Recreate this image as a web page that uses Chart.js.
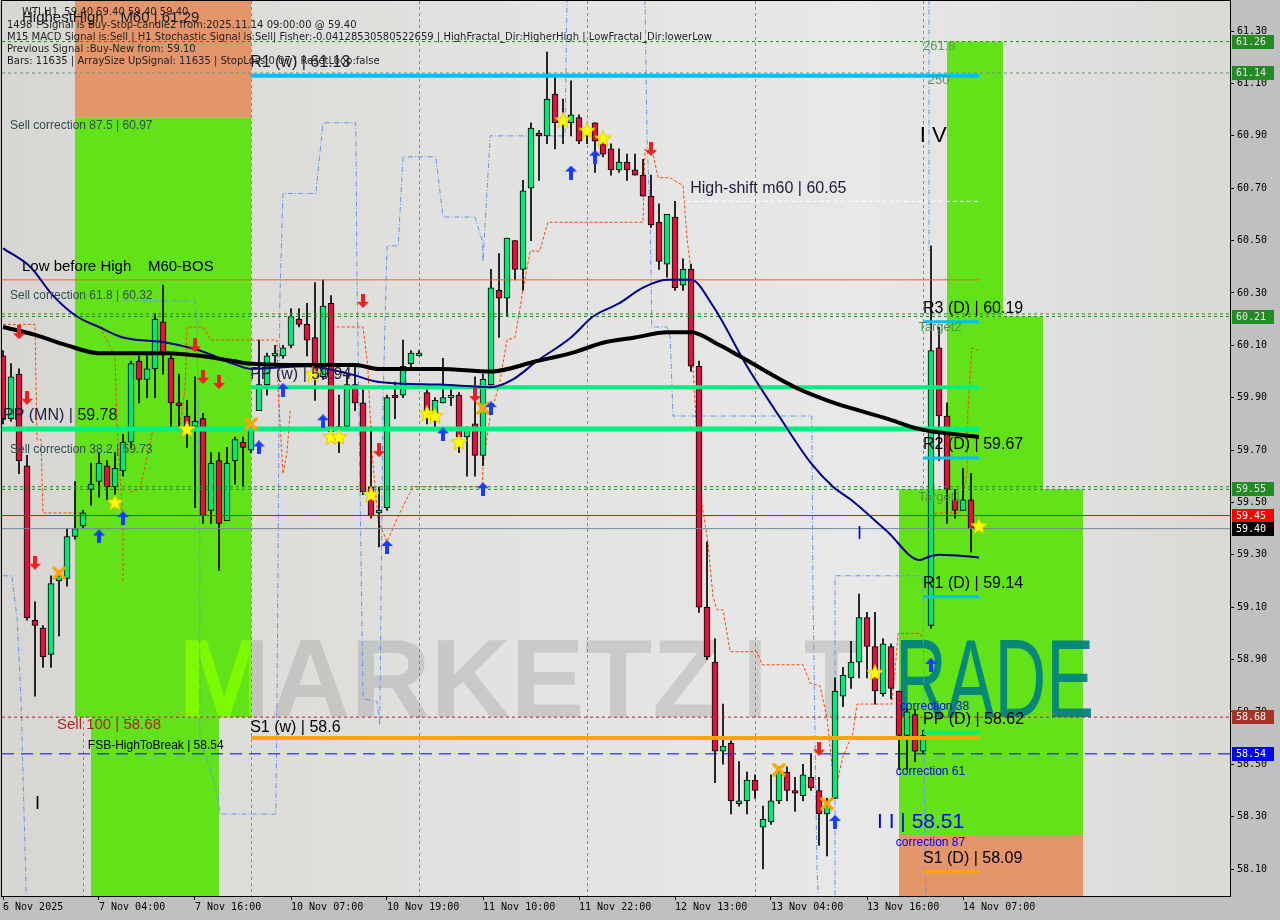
<!DOCTYPE html>
<html>
<head>
<meta charset="utf-8">
<script src="https://cdn.jsdelivr.net/npm/chart.js@4.4.1/dist/chart.umd.min.js"></script>
<style>
  html, body { margin: 0; padding: 0; background: #c0c0c0; }
</style>
</head>
<body>
<canvas id="chart" width="1280" height="920"></canvas>
<script>
// ---- data ----
const opens = [60.06,59.82,59.99,59.64,59.05,59.02,58.92,59.20,59.21,59.37, 59.41,59.55,59.58,59.64,59.56,59.62,59.73,60.04,59.97,60.01,
  60.19,60.05,59.88,59.83,59.79,59.82,59.47,59.66,59.43,59.66, 59.73,59.70,59.85,59.95,60.06,60.06,60.10,60.20,60.18,60.13,
  59.98,60.26,59.78,59.79,59.95,59.88,59.56,59.46,59.48,59.91, 59.91,60.03,60.06,59.92,59.81,59.88,59.90,59.91,59.75,59.80,
  59.68,59.95,60.31,60.28,60.50,60.39,60.70,60.91,60.90,61.06, 60.95,60.95,60.97,60.90,60.95,60.87,60.85,60.77,60.80,60.77,
  60.75,60.67,60.57,60.41,60.59,60.33,60.39,60.02,59.10,58.89, 58.55,58.58,58.35,58.36,58.44,58.26,58.28,58.36,58.47,58.40,
  58.38,58.45,58.40,58.31,58.37,58.76,58.83,58.89,59.06,58.95, 58.77,58.95,58.78,58.61,58.69,58.55,59.03,60.09,59.83,59.51,
  59.47,59.51];
const highs = [60.08,60.03,60.01,59.68,59.12,59.03,59.22,59.24,59.40,59.58, 59.47,59.65,59.69,59.66,59.69,59.76,60.04,60.06,60.07,60.22,
  60.33,60.06,59.99,59.89,59.98,59.84,59.69,59.69,59.71,59.75, 59.75,59.80,60.12,60.07,60.10,60.10,60.24,60.24,60.26,60.34,
  60.35,60.29,59.91,59.99,60.02,59.93,59.79,59.56,59.91,59.96, 60.12,60.08,60.08,59.93,59.90,60.05,59.93,59.92,59.79,59.98,
  59.99,60.39,60.45,60.51,60.50,60.73,60.95,60.92,61.22,61.13, 61.04,61.11,60.98,60.94,60.95,60.88,60.87,60.85,60.83,60.83,
  60.81,60.75,60.64,60.60,60.65,60.43,60.41,60.04,59.35,58.98, 58.73,58.59,58.51,58.47,58.46,58.34,58.46,58.49,58.49,58.45,
  58.50,58.54,58.45,58.37,58.83,58.87,58.97,59.15,59.08,59.08, 58.98,58.96,58.78,58.71,58.71,58.63,60.48,60.17,59.88,59.55,
  59.63,59.61];
const lows = [59.80,59.81,59.61,59.05,58.76,58.87,58.87,58.99,59.18,59.36, 59.40,59.49,59.52,59.51,59.53,59.60,59.71,59.88,59.90,59.90,
  59.99,59.79,59.79,59.71,59.48,59.42,59.42,59.24,59.43,59.57, 59.56,59.69,59.85,59.91,60.02,60.05,60.09,60.17,60.06,59.89,
  59.97,59.76,59.69,59.78,59.85,59.53,59.44,59.33,59.47,59.82, 59.90,60.01,60.06,59.80,59.78,59.88,59.87,59.69,59.60,59.60,
  59.64,59.94,60.13,60.21,60.35,60.31,60.50,60.73,60.87,60.85, 60.87,60.90,60.87,60.87,60.76,60.82,60.75,60.76,60.73,60.75,
  60.67,60.55,60.39,60.36,60.31,60.31,60.00,59.08,58.90,58.43, 58.50,58.31,58.34,58.31,58.37,58.10,58.27,58.35,58.36,58.32,
  58.36,58.40,58.19,58.15,58.37,58.72,58.79,58.83,58.83,58.73, 58.76,58.75,58.48,58.48,58.51,58.54,59.02,59.66,59.42,59.44,
  59.47,59.31];
const closes = [59.82,59.98,59.66,59.06,59.03,58.91,59.19,59.22,59.37,59.40, 59.46,59.57,59.65,59.56,59.63,59.73,60.03,59.97,60.01,60.20,
  60.07,59.88,59.87,59.79,59.81,59.45,59.65,59.42,59.65,59.74, 59.71,59.79,59.95,60.06,60.07,60.09,60.21,60.18,60.12,59.98,
  60.25,59.77,59.79,59.95,59.88,59.54,59.45,59.47,59.90,59.90, 60.02,60.07,60.07,59.83,59.89,59.90,59.91,59.75,59.78,59.68,
  59.97,60.32,60.28,60.51,60.39,60.69,60.93,60.90,61.04,60.95, 60.97,60.98,60.88,60.91,60.88,60.83,60.77,60.80,60.77,60.75,
  60.67,60.56,60.42,60.60,60.32,60.39,60.02,59.10,58.91,58.55, 58.57,58.36,58.36,58.44,58.40,58.29,58.36,58.47,58.40,58.39,
  58.46,58.41,58.31,58.34,58.78,58.84,58.89,59.06,58.95,58.78, 58.96,58.79,58.61,58.70,58.55,58.61,60.08,59.83,59.55,59.47,
  59.51,59.40];

const xLabels = ['6 Nov 2025','7 Nov 04:00','7 Nov 16:00','10 Nov 07:00','10 Nov 19:00','11 Nov 10:00',
  '11 Nov 22:00','12 Nov 13:00','13 Nov 04:00','13 Nov 16:00','14 Nov 07:00'];
const xLabelBars = [0,12,24,36,48,60,72,84,96,108,120];
const gridBars = [10,31,52,73,94,115];
const yTicks = [58.10,58.30,58.50,58.70,58.90,59.10,59.30,59.50,59.70,59.90,60.10,60.30,60.50,60.70,60.90,61.10,61.30];
const xMin = -0.125, xMax = 153.375, yMin = 57.997, yMax = 61.415;

// moving averages
const maSlowBars = [0,4,8,12,16,20.5,24.6,28.75,31,38,44,47,54.6,61,66.75,71,75,79,83,86,89.6,92,99,103,106,110.5,114.6,122];
const maSlowVals = [60.17,60.14,60.10,60.07,60.07,60.07,60.06,60.04,60.03,60.025,60.025,60.01,60.01,60.00,60.04,60.07,60.11,60.13,60.15,60.15,60.10,60.06,59.94,59.89,59.86,59.82,59.78,59.75];
const maFastBars = [0,3.4,6.25,9.25,12,15,20.5,24.6,28.75,31,38,43.4,47,54.6,61,63.75,66.75,71,73.75,77,80,83,86,88.75,93,97,101,103.75,106,110.5,114.6,115.5,117,122];
const maFastVals = [60.47,60.40,60.29,60.21,60.17,60.13,60.11,60.08,60.03,60.01,60.02,59.99,59.96,59.95,59.94,59.97,60.04,60.13,60.21,60.26,60.32,60.35,60.35,60.25,60.02,59.83,59.65,59.56,59.51,59.39,59.28,59.29,59.30,59.29];

// stepped trail (orange dashed) and channel (blue dash-dot), null = break
const trailBars = [0,4,4.25,4.75,5,10,10, 12.1,14,14.25,15,15,15,
  15.9,17.1,18,18.75,22.1,22.75,23,25,26,34.25,34.4,35,35.5,35.9,35.9,
  41.1,45,45.25,45.6,46.1,46.9,48,49.6,51.25,59.9,60,60.9,62.1,63,64,65,65.9,67.1,68.1,80,80.25,81.1,81.9,83.4,85,85.5,85.9,86.25,87.1,88.1,88.75,89.25,90,90.9,94.25,94.9,100,100.9,102.1,103,103.4,103.75,104.25,105,106.25,106.75,110,111.1,111.5,111.9,114.6,115,115,
  115.9,116.75,119.6,120,120.5,120.6,121.1,121.9];
const trailVals = [60.18,60.18,59.74,59.74,59.46,59.46,null, 60.17,60.06,59.79,59.42,59.20,null,
  59.54,59.55,59.67,59.78,59.79,59.93,60.17,60.17,60.12,60.12,59.92,59.61,59.69,59.85,null,
  60.17,60.17,60.11,60.02,59.70,59.43,59.35,59.46,59.56,59.56,59.64,59.83,59.96,60.12,60.13,60.31,60.46,60.46,60.57,60.57,60.85,60.85,60.74,60.74,60.71,60.51,60.41,60.02,59.55,59.35,59.14,59.09,59.09,58.93,58.93,58.88,58.88,58.81,58.80,58.68,58.56,58.46,58.43,58.53,58.62,58.73,58.73,58.73,58.86,59.00,59.00,58.98,null,
  59.45,59.46,59.46,59.53,59.61,59.84,60.09,60.08];
const chanBars = [0,1.1,1.75,2.25,2.9,2.9,
  15,24,24.25,24.6,24.6,26.9,27.1,34.1,34.25,34.6,35,39.1,40,44.1,44.25,45,46.75,47.1,47.5,48,49.4,50,54.1,55,59,59.9,60,60.9,70.25,70.5,70.5,
  80.25,80.5,80.9,81.1,83,83.4,83.75,101.1,101.25,101.75,101.9,101.9,
  104,104,115,115.25,115.4,115.4,
  115.75,115.75];
const chanVals = [59.22,59.22,59.06,58.75,58.0,null,
  60.27,60.27,60.19,59.36,58.61,58.38,58.31,58.31,58.73,60.27,60.68,60.68,60.95,60.95,60.37,58.75,58.74,58.65,59.88,60.48,60.48,60.82,60.82,60.59,60.59,60.50,60.42,60.90,60.90,61.42,null,
  61.42,60.90,60.57,60.17,60.17,60.13,59.83,59.83,59.14,58.10,58.0,null,
  58.0,59.22,59.22,58.10,58.0,null,
  61.42,60.46];

// horizontal levels
const levelVals = [61.26,61.14,61.13,60.35,60.21,60.22,59.94,59.78,59.55,59.56,59.45,59.40,58.68,58.60,58.54,60.65,60.19,59.67,59.14,58.62,58.09];
const levelFrom = [xMin,xMin,31,xMin,xMin,xMin,31,xMin,xMin,xMin,xMin,xMin,xMin,31,xMin,84.6,115,115,115,115,115];
const levelTo = [xMax,xMax,122,122,xMax,xMax,122,122,xMax,xMax,xMax,xMax,xMax,122,xMax,122,122,122,122,122,122];

// coloured zones: null top = chart top, null bottom = chart bottom
const zoneFrom = [9,9,11,118,118,112,112];
const zoneTo = [31,31,27,125,130,135,135];
const zoneHi = [null,60.97,58.68,61.26,60.21,59.55,58.23];
const zoneLo = [60.97,58.68,null,60.21,59.55,58.23,null];

// signal marks
const upBars = [12,15,32,35,40,48,55,60,61,71,74,104,116];
const upVals = [59.37,59.44,59.71,59.93,59.81,59.33,59.76,59.55,59.86,60.76,60.82,58.28,58.88];
const downBars = [2,3,4,24,25,27,45,47,59,81,102];
const downVals = [60.15,59.90,59.27,60.10,59.98,59.96,60.27,59.70,59.91,60.85,58.56];
const starBars = [14,23,38.75,41,42,46,53,54,57,70,73,75,109,122];
const starVals = [59.50,59.78,59.99,59.75,59.75,59.53,59.84,59.83,59.73,60.96,60.92,60.89,58.85,59.41];
const crossBars = [7,31,60,97,103];
const crossVals = [59.23,59.80,59.86,58.48,58.35];

// text on the chart
const labelTexts = ['HighestHigh    M60 | 61.29','R1 (w) | 61.13','Sell correction 87.5 | 60.97','I V','High-shift m60 | 60.65',
  'Low before High    M60-BOS','Sell correction 61.8 | 60.32','R3 (D) | 60.19','Target2','PP (w) | 59.94','PP (MN) | 59.78',
  'Sell correction 38.2 | 59.73','R2 (D) | 59.67','Target1','I','R1 (D) | 59.14','correction 38','Sell 100 | 58.68','PP (D) | 58.62',
  'S1 (w) | 58.6','FSB-HighToBreak | 58.54','correction 61','I I | 58.51','I','correction 87','S1 (D) | 58.09','261.8','250'];
const labelBars = [2.375,30.9,0.875,114.6,85.9,2.375,0.875,115,114.4,30.9,0,0.875,115,114.4,106.75,115,112.1,6.75,115,30.9,10.6,111.6,109.25,4,111.6,115,115,115.6];
const labelVals = [61.35,61.18,60.94,60.90,60.70,60.40,60.29,60.24,60.17,59.99,59.83,59.70,59.72,59.52,59.38,59.19,58.72,58.65,58.67,58.64,58.57,58.47,58.28,58.35,58.20,58.14,61.24,61.11];

const tagVals = [61.26,61.14,60.21,59.55,59.45,59.40,58.68,58.54];

const infoLines = [
  'WTI,H1  59.40 59.40 59.40 59.40',
  '1498 ! Signal is Buy-Stop-candle2 from:2025.11.14 09:00:00 @ 59.40',
  'M15 MACD Signal is:Sell | H1 Stochastic Signal is:Sell| Fisher:-0.04128530580522659 | HighFractal_Dir:HigherHigh | LowFractal_Dir:lowerLow',
  'Previous Signal :Buy-New from: 59.10',
  'Bars: 11635 | ArraySize UpSignal: 11635 | StopLoss:0.07 | ResetLoop:false'
];

// ---- styles ----
const bull = '#00e87a', bear = '#dc143c', zoneGreen = '#62e218', zoneOrange = '#e4966a';
const zoneColors = [zoneOrange, zoneGreen, zoneGreen, zoneGreen, zoneGreen, zoneGreen, zoneOrange];
const spring = '#00f07f', cyan = '#00bfff';
const levelLook = [
  {c:'#228b22', w:1, d:[3,3]}, {c:'#6f8f6f', w:1, d:[3,3]}, {c:cyan, w:4, d:[]}, {c:'#ff5a2a', w:1, d:[]},
  {c:'#228b22', w:1, d:[3,3]}, {c:'#228b22', w:1, d:[3,3]}, {c:spring, w:4, d:[]}, {c:spring, w:5, d:[]},
  {c:'#228b22', w:1, d:[3,3]}, {c:'#228b22', w:1, d:[3,3]}, {c:'#ff0000', w:1, d:[]}, {c:'#778899', w:1, d:[]},
  {c:'#a52a2a', w:1, d:[3,3]}, {c:'#ffa500', w:4, d:[]}, {c:'#0000ff', w:1, d:[12,7]}, {c:'#ffffff', w:1, d:[4,3]},
  {c:cyan, w:3, d:[]}, {c:cyan, w:3, d:[]}, {c:cyan, w:3, d:[]}, {c:spring, w:3, d:[]}, {c:'#ffa500', w:3, d:[]}
];
const big = '16px "Liberation Sans"', mid = '15px "Liberation Sans"', small = '12px "Liberation Sans"';
const labelLook = [
  {f:mid,c:'#1a1a1a'},{f:big,c:'#1a1a2e'},{f:small,c:'#2f4f4f'},{f:'22px "Liberation Sans"',c:'#000'},{f:big,c:'#1c1c3c'},
  {f:mid,c:'#000'},{f:small,c:'#2f4f4f'},{f:big,c:'#000'},{f:'13px "Liberation Sans"',c:'#4f944f'},{f:big,c:'#1c1c3c'},{f:big,c:'#1c1c3c'},
  {f:small,c:'#2f4f4f'},{f:big,c:'#000'},{f:'13px "Liberation Sans"',c:'#4f944f'},{f:'18px "Liberation Sans"',c:'#0000ff'},{f:big,c:'#000'},
  {f:small,c:'#0000ff'},{f:mid,c:'#b22222'},{f:big,c:'#000'},{f:big,c:'#000'},{f:small,c:'#000'},{f:small,c:'#0000ff'},
  {f:'21px "Liberation Sans"',c:'#0000ff'},{f:'18px "Liberation Sans"',c:'#000'},{f:small,c:'#0000ff'},{f:big,c:'#000'},
  {f:'13px "Liberation Sans"',c:'#5a9a5a'},{f:'13px "Liberation Sans"',c:'#5a9a5a'}
];
const tagColors = ['#228b22','#228b22','#228b22','#228b22','#ff0000','#000000','#a93226','#0000ff'];
const tagText = ['#e8e8e8','#e8e8e8','#e8e8e8','#e8e8e8','#ffffff','#ffffff','#ffffff','#ffffff'];

// ---- mark images ----
function markCanvas(w, h, draw) {
  const c = document.createElement('canvas');
  c.width = w; c.height = h;
  draw(c.getContext('2d'));
  return c;
}
const starImg = markCanvas(18, 18, g => {
  g.fillStyle = '#ffff00'; g.strokeStyle = '#e0c800'; g.lineWidth = 1;
  g.beginPath();
  for (let i = 0; i < 10; i++) {
    const r = i % 2 ? 3.6 : 8.5, a = -Math.PI / 2 + i * Math.PI / 5;
    g.lineTo(9 + r * Math.cos(a), 9.5 + r * Math.sin(a));
  }
  g.closePath(); g.fill(); g.stroke();
});
const upImg = markCanvas(12, 14, g => {
  g.fillStyle = '#1a3cff';
  g.beginPath(); g.moveTo(6,0); g.lineTo(12,6); g.lineTo(8,6); g.lineTo(8,14); g.lineTo(4,14); g.lineTo(4,6); g.lineTo(0,6);
  g.closePath(); g.fill();
});
const downImg = markCanvas(12, 14, g => {
  g.fillStyle = '#f01e1e';
  g.beginPath(); g.moveTo(6,14); g.lineTo(12,8); g.lineTo(8,8); g.lineTo(8,0); g.lineTo(4,0); g.lineTo(4,8); g.lineTo(0,8);
  g.closePath(); g.fill();
});
const crossImg = markCanvas(14, 14, g => {
  g.strokeStyle = '#ffa500'; g.lineWidth = 3.5; g.lineCap = 'round';
  g.beginPath(); g.moveTo(2,2); g.lineTo(12,12); g.moveTo(12,2); g.lineTo(2,12); g.stroke();
});

// ---- datasets ----
function pts(xs, ys) { return xs.map((x, i) => ({x: x, y: ys[i]})); }
const bars = opens.map((_, i) => i);
const datasets = [];

zoneFrom.forEach((f, i) => {
  const edge = zoneHi[i] === null ? zoneLo[i] : zoneHi[i];
  let fill;
  if (zoneHi[i] === null) fill = 'end';
  else if (zoneLo[i] === null) fill = 'start';
  else fill = {value: zoneLo[i]};
  datasets.push({type:'line', data:[{x:f, y:edge}, {x:zoneTo[i], y:edge}], borderWidth:0, borderColor:'transparent',
    backgroundColor: zoneColors[i], fill: fill, pointRadius:0, order:20});
});

datasets.push({type:'line', data: pts(trailBars, trailVals), borderColor:'#ff4500', borderWidth:1, borderDash:[3,2],
  pointRadius:0, fill:false, spanGaps:false, order:12});
datasets.push({type:'line', data: pts(chanBars, chanVals), borderColor:'#6495ed', borderWidth:1, borderDash:[5,2,1,2],
  pointRadius:0, fill:false, spanGaps:false, order:12});

datasets.push({type:'bar', data: bars.map(k => ({x:k, y:[lows[k], highs[k]]})), backgroundColor:'#000',
  barThickness:1, grouped:false, order:9});
datasets.push({type:'bar', data: bars.map(k => ({x:k, y:[opens[k], closes[k]]})),
  backgroundColor: bars.map(k => closes[k] >= opens[k] ? bull : bear), borderColor:'#000', borderWidth:1,
  borderSkipped:false, barThickness:6, minBarLength:2, grouped:false, order:8});

levelVals.forEach((v, i) => {
  datasets.push({type:'line', data:[{x:levelFrom[i], y:v}, {x:levelTo[i], y:v}], borderColor: levelLook[i].c,
    borderWidth: levelLook[i].w, borderDash: levelLook[i].d, pointRadius:0, fill:false, order:6});
});

datasets.push({type:'line', data: pts(maSlowBars, maSlowVals), borderColor:'#000', borderWidth:4, pointRadius:0,
  fill:false, cubicInterpolationMode:'monotone', order:5});
datasets.push({type:'line', data: pts(maFastBars, maFastVals), borderColor:'#00008b', borderWidth:2, pointRadius:0,
  fill:false, cubicInterpolationMode:'monotone', order:5});

[[upBars, upVals, upImg], [downBars, downVals, downImg], [starBars, starVals, starImg], [crossBars, crossVals, crossImg]]
  .forEach(m => {
    datasets.push({type:'line', data: pts(m[0], m[1]), showLine:false, pointStyle: m[2], pointRadius:7, order:3});
  });

// ---- drawing helpers ----
function condensed(ctx, text, x, y, sx) {
  ctx.save(); ctx.translate(x, y); ctx.scale(sx, 1); ctx.fillText(text, 0, 0); ctx.restore();
}
function brandLeft(ctx, a) {
  ctx.font = 'bold 112px "Liberation Sans"';
  condensed(ctx, 'MARKETZ', a.left + 176, a.top + 716, 0.99);
  condensed(ctx, 'I', a.left + 742, a.top + 716, 0.7);
  condensed(ctx, 'T', a.left + 802, a.top + 716, 0.8);
}
function drawWatermark(chart) {
  const ctx = chart.ctx, a = chart.chartArea, xs = chart.scales.x, ys = chart.scales.y;
  ctx.save();
  ctx.beginPath(); ctx.rect(a.left, a.top, a.right - a.left, a.bottom - a.top); ctx.clip();
  ctx.textBaseline = 'alphabetic';
  ctx.fillStyle = 'rgba(120,120,120,0.24)';
  brandLeft(ctx, a);
  // on the green zones the brand shows lighter
  zoneFrom.forEach((f, i) => {
    if (zoneColors[i] !== zoneGreen) return;
    const x1 = xs.getPixelForValue(f), x2 = xs.getPixelForValue(zoneTo[i]);
    const y1 = zoneHi[i] === null ? a.top : ys.getPixelForValue(zoneHi[i]);
    const y2 = zoneLo[i] === null ? a.bottom : ys.getPixelForValue(zoneLo[i]);
    ctx.save();
    ctx.beginPath(); ctx.rect(x1, y1, x2 - x1, y2 - y1); ctx.clip();
    ctx.fillStyle = '#7cfa00';
    brandLeft(ctx, a);
    ctx.restore();
  });
  ctx.font = '112px "Liberation Sans"';
  ctx.fillStyle = 'rgba(0,128,128,0.92)';
  condensed(ctx, 'RADE', a.left + 893, a.top + 716, 0.64);
  ctx.restore();
}

const decor = {
  id: 'decor',
  beforeDraw(chart) {
    const ctx = chart.ctx, a = chart.chartArea;
    ctx.save();
    ctx.fillStyle = '#c0c0c0';
    ctx.fillRect(0, 0, chart.width, chart.height);
    const g = ctx.createLinearGradient(a.left, 0, a.right, 0);
    g.addColorStop(0, '#d7d6d3'); g.addColorStop(0.4, '#e2e2e0'); g.addColorStop(0.7, '#e8e8e8'); g.addColorStop(1, '#dad9d6');
    ctx.fillStyle = g;
    ctx.fillRect(a.left, a.top, a.right - a.left, a.bottom - a.top);
    ctx.restore();
  },
  afterDatasetDraw(chart, args) {
    if (args.index === 0) drawWatermark(chart);
  },
  afterDatasetsDraw(chart) {
    const ctx = chart.ctx, xs = chart.scales.x, ys = chart.scales.y;
    ctx.save();
    ctx.textAlign = 'left'; ctx.textBaseline = 'middle';
    labelTexts.forEach((t, i) => {
      ctx.font = labelLook[i].f; ctx.fillStyle = labelLook[i].c;
      ctx.fillText(t, xs.getPixelForValue(labelBars[i]), ys.getPixelForValue(labelVals[i]));
    });
    ctx.restore();
  },
  afterDraw(chart) {
    const ctx = chart.ctx, a = chart.chartArea, ys = chart.scales.y;
    ctx.save();
    // indicator comment block
    ctx.textAlign = 'left'; ctx.textBaseline = 'middle';
    ctx.font = '10px "DejaVu Sans"'; ctx.fillStyle = '#1e1e1e';
    ctx.fillText(infoLines[0], a.left + 20, a.top + 11);
    for (let i = 1; i < infoLines.length; i++) ctx.fillText(infoLines[i], a.left + 5, a.top + 12 + 12.2 * i);
    // price tags on the axis
    ctx.font = '10px "DejaVu Sans Mono"';
    tagVals.forEach((v, i) => {
      const y = Math.round(ys.getPixelForValue(v));
      ctx.fillStyle = tagColors[i];
      ctx.fillRect(a.right + 2, y - 7, 42, 14);
      ctx.fillStyle = tagText[i];
      ctx.fillText(v.toFixed(2), a.right + 6, y);
    });
    // frame
    ctx.strokeStyle = '#000'; ctx.lineWidth = 1;
    ctx.strokeRect(a.left - 0.5, a.top - 0.5, a.right - a.left + 1, a.bottom - a.top + 1);
    ctx.restore();
  }
};

const tickBars = xLabelBars.concat(gridBars).sort((p, q) => p - q);

new Chart(document.getElementById('chart'), {
  type: 'bar',
  data: { datasets: datasets },
  plugins: [decor],
  options: {
    responsive: false,
    devicePixelRatio: 1,
    animation: false,
    events: [],
    layout: { autoPadding: false, padding: { left: 2, top: 1, right: 0, bottom: 0 } },
    plugins: { legend: { display: false }, tooltip: { enabled: false } },
    scales: {
      x: {
        type: 'linear', position: 'bottom', min: xMin, max: xMax, offset: false, z: 1,
        afterBuildTicks: s => { s.ticks = tickBars.map(v => ({value: v})); },
        afterFit: s => { s.height = 24; s.paddingLeft = 0; s.paddingRight = 0; },
        ticks: {
          autoSkip: false, maxRotation: 0, minRotation: 0, align: 'start', padding: 1,
          color: '#000', font: { family: 'DejaVu Sans Mono', size: 10 },
          callback: v => { const i = xLabelBars.indexOf(v); return i >= 0 ? xLabels[i] : ''; }
        },
        grid: {
          offset: false, drawOnChartArea: true, drawTicks: true, tickLength: 4, lineWidth: 1,
          color: c => (c.tick && gridBars.includes(c.tick.value)) ? '#8a8a8a' : 'transparent',
          tickColor: c => (c.tick && xLabelBars.includes(c.tick.value)) ? '#000' : 'transparent'
        },
        border: { display: true, color: '#000', width: 1, dash: [3, 3] }
      },
      y: {
        type: 'linear', position: 'right', min: yMin, max: yMax,
        afterBuildTicks: s => { s.ticks = yTicks.map(v => ({value: v})); },
        afterFit: s => { s.width = 50; s.paddingTop = 0; s.paddingBottom = 0; },
        ticks: {
          padding: 3, color: '#000', font: { family: 'DejaVu Sans Mono', size: 10 },
          callback: v => v.toFixed(2)
        },
        grid: { drawOnChartArea: false, drawTicks: true, tickLength: 4, color: '#000' },
        border: { display: true, color: '#000', width: 1 }
      }
    }
  }
});
</script>
</body>
</html>
